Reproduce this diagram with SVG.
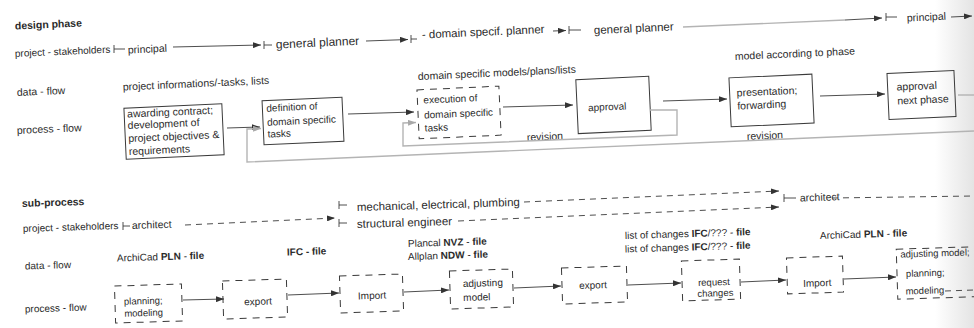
<svg xmlns="http://www.w3.org/2000/svg" width="974" height="328" viewBox="0 0 974 328">
<style>
.t{font-family:"Liberation Sans",Arial,sans-serif;font-size:10.5px;fill:#2b2b2b}
.s10{font-size:10px}
.s95{font-size:9.5px}
.s115{font-size:11.5px}
.s12{font-size:12px}
.b{font-weight:bold}
.h{font-weight:bold;font-size:10.5px}
.box{fill:none;stroke:#3a3a3a;stroke-width:1}
.dbox{fill:none;stroke:#3a3a3a;stroke-width:1;stroke-dasharray:7 6}
.c{fill:none;stroke:#3a3a3a;stroke-width:0.9}
.d{stroke-dasharray:6 5}
.g{fill:none;stroke:#b4b4b4;stroke-width:1.4}
</style>
<defs>
<marker id="ah" viewBox="0 0 8 6" refX="8" refY="3" markerWidth="8" markerHeight="6" markerUnits="userSpaceOnUse" orient="auto"><path d="M0,0 L8,3 L0,6 z" fill="#333"/></marker>
<marker id="ahg" viewBox="0 0 8 6" refX="8" refY="3" markerWidth="8" markerHeight="6" markerUnits="userSpaceOnUse" orient="auto"><path d="M0,0 L8,3 L0,6 z" fill="#a8a8a8"/></marker>
<linearGradient id="edge" x1="0" y1="0" x2="1" y2="0"><stop offset="0" stop-color="#d8d8d8" stop-opacity="0"/><stop offset="1" stop-color="#d8d8d8" stop-opacity="0.7"/></linearGradient>
</defs>
<rect width="974" height="328" fill="#ffffff"/>
<rect x="935" y="0" width="39" height="328" fill="url(#edge)"/>

<!-- row labels -->
<g id="labels">
<text class="t h" x="15" y="29.5" transform="rotate(-2.6 15 29.5)">design phase</text>
<text class="t s10" x="15" y="57" transform="rotate(-2.6 15 57)">project - stakeholders</text>
<text class="t" x="17" y="96" transform="rotate(-2.6 17 96)">data - flow</text>
<text class="t" x="17" y="134" transform="rotate(-2.6 17 134)">process - flow</text>
<text class="t h" x="22" y="207" transform="rotate(-1.8 22 207)">sub-process</text>
<text class="t s10" x="23" y="232" transform="rotate(-1.8 23 232)">project - stakeholders</text>
<text class="t s10" x="25" y="269.5" transform="rotate(-1.8 25 269.5)">data - flow</text>
<text class="t s10" x="25" y="312.5" transform="rotate(-1.8 25 312.5)">process - flow</text>
</g>

<!-- data-flow labels -->
<g id="data-labels">
<text class="t" x="123" y="90.5" transform="rotate(-2.6 123 90.5)">project informations/-tasks, lists</text>
<text class="t" x="418" y="80" transform="rotate(-2.6 418 80)">domain specific models/plans/lists</text>
<text class="t" x="735" y="60" transform="rotate(-2.6 735 60)">model according to phase</text>
<text class="t" x="527" y="141" transform="rotate(-2.6 527 141)">revision</text>
<text class="t" x="747" y="140" transform="rotate(-2.6 747 140)">revision</text>
<text class="t s10" x="117" y="261.5" transform="rotate(-1.8 117 261.5)">ArchiCad <tspan class="b">PLN</tspan> - <tspan class="b">file</tspan></text>
<text class="t s10 b" x="287" y="255.5" transform="rotate(-1.8 287 255.5)">IFC - file</text>
<text class="t s10" x="408" y="247" transform="rotate(-1.8 408 247)">Plancal <tspan class="b">NVZ</tspan> - <tspan class="b">file</tspan></text>
<text class="t s10" x="408" y="260" transform="rotate(-1.8 408 260)">Allplan <tspan class="b">NDW</tspan> - <tspan class="b">file</tspan></text>
<text class="t s10" x="625" y="239" transform="rotate(-1.8 625 239)">list of changes <tspan class="b">IFC</tspan>/??? - <tspan class="b">file</tspan></text>
<text class="t s10" x="625" y="252.5" transform="rotate(-1.8 625 252.5)">list of changes <tspan class="b">IFC</tspan>/??? - <tspan class="b">file</tspan></text>
<text class="t s10" x="820" y="239" transform="rotate(-1.8 820 239)">ArchiCad <tspan class="b">PLN</tspan> - <tspan class="b">file</tspan></text>
</g>

<!-- stakeholders (design phase) -->
<g id="sh-principal"><text class="t" x="128" y="53.5" transform="rotate(-2.6 128 53.5)">principal</text></g>
<g id="sh-general-planner"><text class="t s12" x="276" y="48.5" transform="rotate(-2.6 276 48.5)">general planner</text></g>
<g id="sh-domain-planner"><text class="t s115" x="422" y="38.5" transform="rotate(-2.6 422 38.5)">- domain specif. planner</text></g>
<g id="sh-general-planner-2"><text class="t s115" x="594" y="34" transform="rotate(-2.6 594 34)">general planner</text></g>
<g id="sh-principal-2"><text class="t" x="907" y="21.5" transform="rotate(-2.6 907 21.5)">principal</text></g>

<!-- stakeholders (sub-process) -->
<g id="sh-architect"><text class="t" x="132" y="229" transform="rotate(-1.8 132 229)">architect</text></g>
<g id="sh-mep"><text class="t s115" x="357" y="211" transform="rotate(-1.8 357 211)">mechanical, electrical, plumbing</text></g>
<g id="sh-structural"><text class="t s115" x="357" y="228" transform="rotate(-1.8 357 228)">structural engineer</text></g>
<g id="sh-architect-2"><text class="t" x="800" y="201.5" transform="rotate(-1.8 800 201.5)">architect</text></g>

<!-- design phase process nodes -->
<g id="n-awarding" transform="rotate(-2.6 174 131)">
<rect class="box" x="125" y="106" width="98" height="51"/>
<text class="t" x="128" y="115.5">awarding contract;</text>
<text class="t" x="128" y="127">development of</text>
<text class="t" x="128" y="140">project objectives &amp;</text>
<text class="t" x="128" y="153">requirements</text>
</g>
<g id="n-definition" transform="rotate(-2.6 303 121)">
<rect class="box" x="263" y="99" width="80" height="44"/>
<text class="t s10" x="267" y="110">definition of</text>
<text class="t s10" x="267" y="124">domain specific</text>
<text class="t s10" x="267" y="136">tasks</text>
</g>
<g id="n-execution" transform="rotate(-2.6 459 112)">
<rect class="dbox" x="418" y="88" width="82" height="49"/>
<text class="t s10" x="424" y="102">execution of</text>
<text class="t s10" x="424" y="117">domain specific</text>
<text class="t s10" x="424" y="130">tasks</text>
</g>
<g id="n-approval" transform="rotate(-2.6 613 105)">
<rect class="box" x="577" y="78" width="73" height="54"/>
<text class="t s10" x="588" y="110">approval</text>
</g>
<g id="n-presentation" transform="rotate(-2.6 771 100)">
<rect class="box" x="730" y="76" width="83" height="49"/>
<text class="t" x="737" y="95">presentation;</text>
<text class="t" x="737" y="108">forwarding</text>
</g>
<g id="n-approval-next" transform="rotate(-2.6 921 95)">
<rect class="box" x="888" y="72" width="67" height="46"/>
<text class="t" x="897" y="89.5">approval</text>
<text class="t" x="897" y="103.5">next phase</text>
</g>

<!-- sub-process nodes -->
<g id="s-planning" transform="rotate(-1.8 148 303)">
<rect class="dbox" x="115" y="285" width="67" height="37"/>
<text class="t s95" x="124" y="304">planning;</text>
<text class="t s95" x="124" y="316">modeling</text>
</g>
<g id="s-export-1" transform="rotate(-1.8 255 299)">
<rect class="dbox" x="223" y="280" width="64" height="38"/>
<text class="t s10" x="258" y="305" text-anchor="middle">export</text>
</g>
<g id="s-import-1" transform="rotate(-1.8 371 293)">
<rect class="dbox" x="340" y="275" width="63" height="37"/>
<text class="t s10" x="372" y="299" text-anchor="middle">Import</text>
</g>
<g id="s-adjusting" transform="rotate(-1.8 481 289)">
<rect class="dbox" x="450" y="270" width="63" height="38"/>
<text class="t s10" x="463" y="286.5">adjusting</text>
<text class="t s10" x="463" y="300.5">model</text>
</g>
<g id="s-export-2" transform="rotate(-1.8 594 285)">
<rect class="dbox" x="562" y="267" width="65" height="36"/>
<text class="t s10" x="593" y="288.5" text-anchor="middle">export</text>
</g>
<g id="s-request" transform="rotate(-1.8 711 280)">
<rect class="dbox" x="682" y="260" width="58" height="40"/>
<text class="t s95" x="698" y="285.5">request</text>
<text class="t s95" x="697" y="296.5">changes</text>
</g>
<g id="s-import-2" transform="rotate(-1.8 815 275)">
<rect class="dbox" x="787" y="257" width="56" height="36"/>
<text class="t s10" x="817" y="286.5" text-anchor="middle">Import</text>
</g>
<g id="s-adjusting-2" transform="rotate(-1.8 935 273)">
<rect class="dbox" x="897" y="248" width="100" height="50"/>
<text class="t s95" x="901" y="256.5">adjusting model;</text>
<text class="t s95" x="906" y="276">planning;</text>
<text class="t s95" x="905" y="293.5">modeling</text>
</g>

<!-- connectors -->
<g id="connectors">
<path class="c" d="M114,45 V53 M114,49 H125"/>
<path class="c" d="M173,47 L261,45" marker-end="url(#ah)"/>
<path class="c" d="M264,41 V49 M264,45 H272"/>
<path class="c" d="M366,41 L408,39.5" marker-end="url(#ah)"/>
<path class="c" d="M411,35 V43 M411,39 H417"/>
<path class="c" d="M553,31 L566,30.5" marker-end="url(#ah)"/>
<path class="c" d="M569,26 V34 M569,30 H581"/>
<path class="g" d="M683,27 L845,20"/>
<path class="c" d="M845,20 L882,18" marker-end="url(#ah)"/>
<path class="c" d="M886,13 V21 M886,17 H897"/>
<path class="c" d="M951,17 L972,16" marker-end="url(#ah)"/>
<path class="c" d="M227,128 L260,127" marker-end="url(#ah)"/>
<path class="c" d="M348,114 L414,112" marker-end="url(#ah)"/>
<path class="c" d="M503,107 L573,105" marker-end="url(#ah)"/>
<path class="c" d="M663,101 L727,99" marker-end="url(#ah)"/>
<path class="c" d="M820,96 L885,94" marker-end="url(#ah)"/>
<path class="g" d="M958,95 L974,95"/>
<path class="g" d="M650,110 L677,110 L677,135 L403,146 L403,123 L416,122.5" marker-end="url(#ahg)"/>
<path class="g" d="M974,131 L247,162 L247,129 L261,128.5" marker-end="url(#ahg)"/>
<path class="c" d="M123,222 V230 M123,226 H130"/>
<path class="c d" d="M185,225 L335,218" marker-end="url(#ah)"/>
<path class="c" d="M339,201 V209 M339,205 H347 M339,219 V227 M339,223 H347"/>
<path class="c d" d="M524,202 L779,191" marker-end="url(#ah)"/>
<path class="c d" d="M458,221 L779,207" marker-end="url(#ah)"/>
<path class="c" d="M784,194 V202 M784,198 H796"/>
<path class="c d" d="M832,198 L974,196"/>
<path class="c" d="M183,300 L224,299" marker-end="url(#ah)"/>
<path class="c" d="M288,295 L339,293" marker-end="url(#ah)"/>
<path class="c" d="M404,292 L449,290" marker-end="url(#ah)"/>
<path class="c" d="M514,288 L561,286" marker-end="url(#ah)"/>
<path class="c" d="M628,285 L681,283" marker-end="url(#ah)"/>
<path class="c" d="M741,282 L786,280" marker-end="url(#ah)"/>
<path class="c" d="M844,279 L896,277" marker-end="url(#ah)"/>
<path class="c d" d="M945,291 L974,290"/>
</g>
</svg>
